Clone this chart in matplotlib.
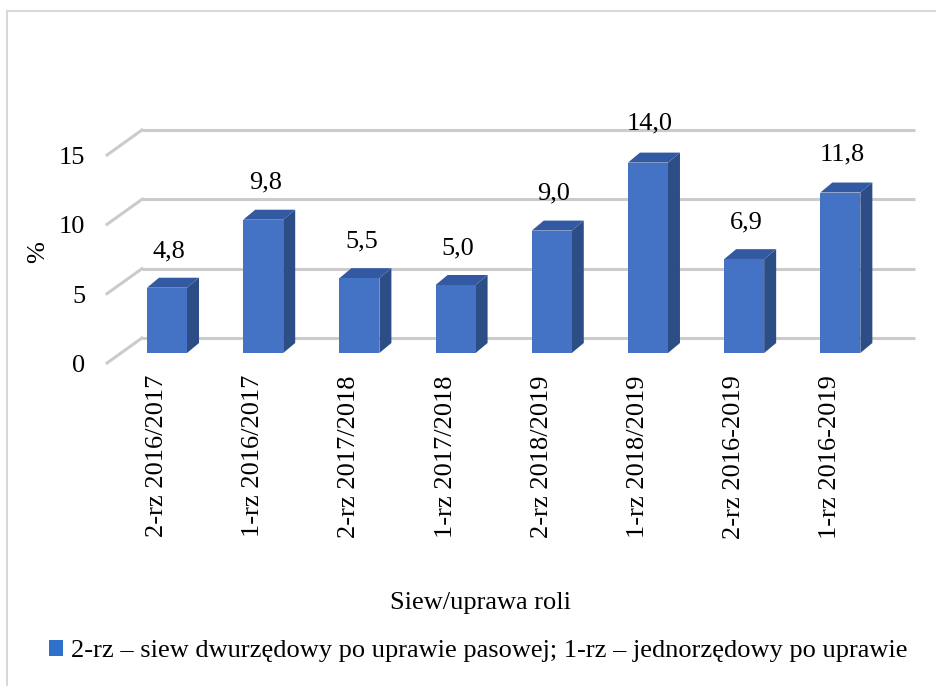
import matplotlib
matplotlib.use("Agg")
import matplotlib.pyplot as plt
from matplotlib.patches import Rectangle, Polygon, Patch
from matplotlib.lines import Line2D

plt.rcParams['font.family'] = ['Liberation Serif', 'DejaVu Serif']

categories = ['2-rz 2016/2017', '1-rz 2016/2017', '2-rz 2017/2018', '1-rz 2017/2018',
              '2-rz 2018/2019', '1-rz 2018/2019', '2-rz 2016-2019', '1-rz 2016-2019']
values = [4.8, 9.8, 5.5, 5.0, 9.0, 14.0, 6.9, 11.8]
yticks = [0, 5, 10, 15]
legend_text = '2-rz – siew dwurzędowy po uprawie pasowej; 1-rz – jednorzędowy po uprawie'

W, H = 936, 686
fig = plt.figure(figsize=(W / 100, H / 100), dpi=100)

# back wall of the pseudo-3d chart
ax = fig.add_axes([142 / W, (H - 338) / H, 773 / W, 208 / H])
ax.set_xlim(-0.26, 7.776)
ax.set_ylim(0, 15)
ax.axis('off')

px_x = 773 / (7.776 + 0.26)    # pixels per x unit
px_y = 208 / 15                # pixels per y unit

grid_c = '#CBCBCB'
x0 = -0.26
diag_dx = -35 / px_x
diag_dy = -25 / px_y
for g in yticks:
    ax.plot([x0, 7.776], [g, g], color=grid_c, lw=2.2, clip_on=False, solid_capstyle='butt')
    ax.plot([x0 + diag_dx, x0], [g + diag_dy, g], color=grid_c, lw=2.2, clip_on=False)
    ax.text(x0 + diag_dx - 22 / px_x, g + diag_dy - 3 / px_y, str(g), ha='right', va='center',
            fontsize=19, clip_on=False)

# bars: front face sits lower than wall, with side + top faces for depth
base = -15 / px_y
k = 13.6 / px_y
w = 40 / px_x
ddx = 12 / px_x
ddy = 10 / px_y
front_c = '#4472C4'
side_c = '#2C4D86'
top_c = '#3459A3'

for i, v in enumerate(values):
    left = i - w / 2
    right = i + w / 2
    top = base + v * k
    ax.add_patch(Polygon([(right, base), (right + ddx, base + ddy), (right + ddx, top + ddy), (right, top)],
                         closed=True, facecolor=side_c, edgecolor='none', clip_on=False, zorder=3))
    ax.add_patch(Polygon([(left, top), (left + ddx, top + ddy), (right + ddx, top + ddy), (right, top)],
                         closed=True, facecolor=top_c, edgecolor='none', clip_on=False, zorder=3))
    ax.add_patch(Rectangle((left, base), w, top - base, facecolor=front_c, edgecolor='none',
                           clip_on=False, zorder=4))
    ax.text(i + 2 / px_x, v + 1.45, '{:.1f}'.format(v).replace('.', ','), ha='center', va='center',
            fontsize=19, clip_on=False, zorder=5)
    ax.text(i - 10 / px_x, base - 22 / px_y, categories[i], rotation=90, ha='center', va='top',
            fontsize=19, clip_on=False)

fig.text(38 / W, 1 - 252 / H, '%', rotation=90, ha='center', va='center', fontsize=19)
fig.text(481 / W, 1 - 603 / H, 'Siew/uprawa roli', ha='center', va='center', fontsize=19)

fig.legend(handles=[Patch(facecolor='#2F70C8')], labels=[legend_text], loc='center',
           bbox_to_anchor=(478 / W, 1 - 651 / H), frameon=False, fontsize=19,
           handlelength=0.55, handleheight=0.55, handletextpad=0.3)

# chart border (runs off the right and bottom edges)
fig.add_artist(Line2D([7 / W, 1], [1 - 11 / H, 1 - 11 / H], color='#D9D9D9', lw=1.5))
fig.add_artist(Line2D([7 / W, 7 / W], [0, 1 - 11 / H], color='#D9D9D9', lw=1.5))

fig.savefig('out.png', dpi=100)
